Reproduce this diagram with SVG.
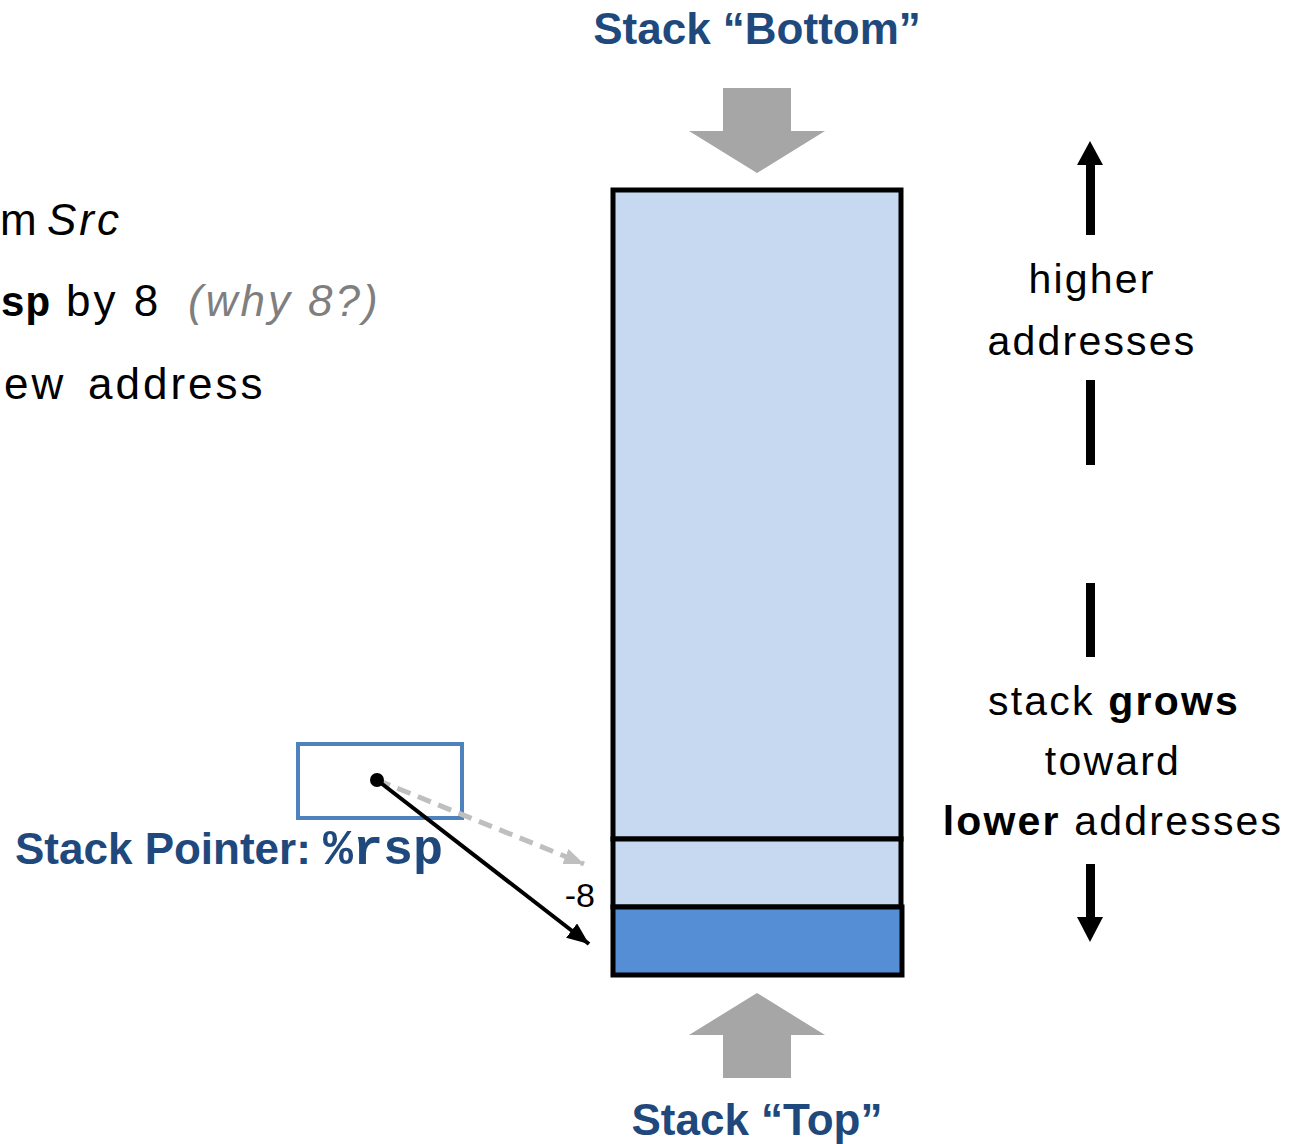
<svg xmlns="http://www.w3.org/2000/svg" width="1304" height="1144" viewBox="0 0 1304 1144">
<style>
.title{font-family:"Liberation Sans",Arial,sans-serif;font-weight:bold;font-size:44px;fill:#1F497D}
.body{font-family:"Liberation Sans",Arial,sans-serif;font-size:44px;fill:#000;letter-spacing:3px}
.side{font-family:"Liberation Sans",Arial,sans-serif;font-size:41px;fill:#000;letter-spacing:2.2px}
.mono{font-family:"Liberation Mono","Courier New",monospace;font-weight:bold}
.cell{stroke:#000;stroke-width:5}
.bigarrow{fill:#A6A6A6}
.rule{fill:#000}
</style>
<defs>
<marker id="ah-black" markerUnits="userSpaceOnUse" markerWidth="24" markerHeight="20" refX="22" refY="9" orient="auto">
<path d="M0,0 L22,9 L0,18 Z" fill="#000"/>
</marker>
<marker id="ah-gray" markerUnits="userSpaceOnUse" markerWidth="22" markerHeight="18" refX="20" refY="8" orient="auto">
<path d="M0,0 L20,8 L0,16 Z" fill="#BFBFBF"/>
</marker>
</defs>

<g id="left-text">
<text class="body" y="235"><tspan x="0">m</tspan><tspan x="47" font-style="italic">Src</tspan></text>
<text class="body" y="316"><tspan x="0" class="mono" font-size="42px" letter-spacing="0">sp</tspan><tspan x="66">by 8</tspan><tspan x="188" font-style="italic" fill="#7F7F7F">(why 8?)</tspan></text>
<text class="body" y="399"><tspan x="4">ew</tspan><tspan x="88">address</tspan></text>
</g>

<g id="stack-bottom-label">
<text class="title" x="757" y="44" text-anchor="middle">Stack “Bottom”</text>
<polygon class="bigarrow" points="723,88 791,88 791,131 825,131 757,173 689,131 723,131"/>
</g>

<g id="stack-top-label">
<polygon class="bigarrow" points="757,993 825,1035 791,1035 791,1078 723,1078 723,1035 689,1035"/>
<text class="title" x="757" y="1135" text-anchor="middle">Stack “Top”</text>
</g>

<g id="stack">
<rect class="cell" x="613" y="190" width="288" height="649" fill="#C6D9F0"/>
<rect class="cell" x="613" y="839" width="288" height="68" fill="#C6D9F0"/>
<rect class="cell" x="613" y="907" width="289" height="68" fill="#558ED5"/>
</g>

<g id="direction">
<polygon class="rule" points="1090,141 1103,165 1077,165"/>
<rect class="rule" x="1086" y="164" width="9" height="71"/>
<text class="side" x="1092" y="293" text-anchor="middle">higher</text>
<text class="side" x="1092" y="355" text-anchor="middle">addresses</text>
<rect class="rule" x="1086" y="380" width="9" height="85"/>
<rect class="rule" x="1086" y="583" width="9" height="74"/>
<text class="side" x="1114" y="715" text-anchor="middle">stack <tspan font-weight="bold">grows</tspan></text>
<text class="side" x="1113" y="775" text-anchor="middle">toward</text>
<text class="side" x="1113" y="835" text-anchor="middle"><tspan font-weight="bold">lower</tspan> addresses</text>
<rect class="rule" x="1086" y="864" width="9" height="55"/>
<polygon class="rule" points="1077,917 1103,917 1090,942"/>
</g>

<g id="stack-pointer">
<rect x="298" y="744" width="164" height="74" fill="none" stroke="#4F81BD" stroke-width="4"/>
<text class="title" x="15" y="864" font-size="43px">Stack Pointer: <tspan class="mono" font-size="50px">%rsp</tspan></text>
</g>

<g id="connectors">
<line x1="377" y1="780" x2="584" y2="864" stroke="#BFBFBF" stroke-width="5" stroke-dasharray="14,8" marker-end="url(#ah-gray)"/>
<line x1="377" y1="780" x2="589" y2="944" stroke="#000" stroke-width="4" marker-end="url(#ah-black)"/>
<circle cx="377" cy="780" r="7" fill="#000"/>
<text x="595" y="907" text-anchor="end" font-family="'Liberation Sans',Arial,sans-serif" font-size="34px" fill="#000">-8</text>
</g>
</svg>
